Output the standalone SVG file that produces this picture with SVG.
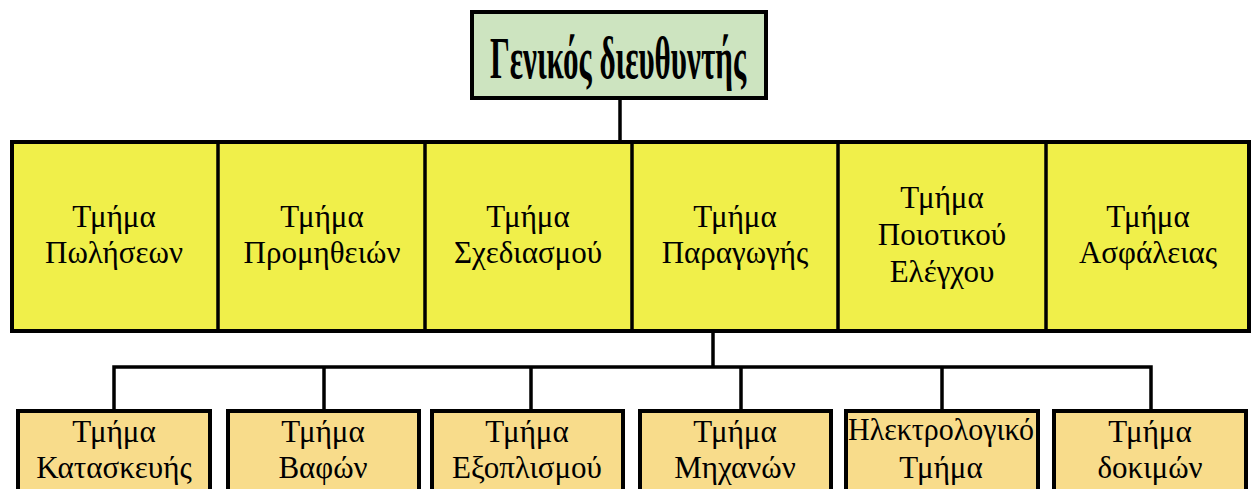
<svg xmlns="http://www.w3.org/2000/svg" width="1252" height="489" viewBox="0 0 1252 489">
<style>
.t{font-family:"Liberation Serif","Times New Roman",serif;font-size:31px;fill:#000;text-anchor:middle}
.title{font-family:"Liberation Serif","Times New Roman",serif;font-size:60px;font-weight:bold;fill:#000;text-anchor:middle}
.bot{fill:#f8dc8b;stroke:#000;stroke-width:4}
.ln{fill:none;stroke:#000;stroke-width:3.5}
</style>
<rect width="1252" height="489" fill="#fff"/>
<g id="connectors">
<line class="ln" x1="620" y1="98" x2="620" y2="140"/>
<line class="ln" x1="713" y1="332" x2="713" y2="367"/>
<polyline class="ln" points="114,409 114,367 1151,367 1151,409"/>
<line class="ln" x1="324" y1="367" x2="324" y2="409"/>
<line class="ln" x1="531" y1="367" x2="531" y2="409"/>
<line class="ln" x1="741" y1="367" x2="741" y2="409"/>
<line class="ln" x1="942" y1="367" x2="942" y2="409"/>
</g>
<g id="gm">
<rect x="472" y="12" width="294" height="86" fill="#cde4c0" stroke="#000" stroke-width="4"/>
<text class="title" x="618" y="78" textLength="256" lengthAdjust="spacingAndGlyphs">Γενικός διευθυντής</text>
</g>
<g id="mid-frame">
<rect x="12" y="142" width="1237" height="189" fill="#f0ef4a" stroke="#000" stroke-width="4"/>
</g>
<g id="sales">
<line class="ln" x1="218" y1="142" x2="218" y2="331"/>
<text class="t" x="114" y="227">Τμήμα</text>
<text class="t" x="114" y="263">Πωλήσεων</text>
</g>
<g id="supply">
<line class="ln" x1="425" y1="142" x2="425" y2="331"/>
<text class="t" x="322" y="227">Τμήμα</text>
<text class="t" x="322" y="263">Προμηθειών</text>
</g>
<g id="design">
<line class="ln" x1="632" y1="142" x2="632" y2="331"/>
<text class="t" x="528" y="227">Τμήμα</text>
<text class="t" x="528" y="263">Σχεδιασμού</text>
</g>
<g id="production">
<line class="ln" x1="838" y1="142" x2="838" y2="331"/>
<text class="t" x="735" y="227">Τμήμα</text>
<text class="t" x="735" y="263">Παραγωγής</text>
</g>
<g id="quality">
<line class="ln" x1="1046" y1="142" x2="1046" y2="331"/>
<text class="t" x="942" y="208">Τμήμα</text>
<text class="t" x="942" y="245">Ποιοτικού</text>
<text class="t" x="942" y="282">Ελέγχου</text>
</g>
<g id="safety">
<text class="t" x="1148" y="227">Τμήμα</text>
<text class="t" x="1148" y="263">Ασφάλειας</text>
</g>
<g id="construction">
<rect class="bot" x="18" y="411" width="192" height="90"/>
<text class="t" x="114" y="442">Τμήμα</text>
<text class="t" x="114" y="478">Κατασκευής</text>
</g>
<g id="paint">
<rect class="bot" x="228" y="411" width="191" height="90"/>
<text class="t" x="323" y="442">Τμήμα</text>
<text class="t" x="323" y="478">Βαφών</text>
</g>
<g id="equipment">
<rect class="bot" x="432" y="411" width="191" height="90"/>
<text class="t" x="527" y="442">Τμήμα</text>
<text class="t" x="527" y="478">Εξοπλισμού</text>
</g>
<g id="machines">
<rect class="bot" x="640" y="411" width="191" height="90"/>
<text class="t" x="735" y="442">Τμήμα</text>
<text class="t" x="735" y="478">Μηχανών</text>
</g>
<g id="electrical">
<rect class="bot" x="846" y="411" width="192" height="90"/>
<text class="t" x="941" y="440" textLength="186" lengthAdjust="spacingAndGlyphs">Ηλεκτρολογικό</text>
<text class="t" x="941" y="478">Τμήμα</text>
</g>
<g id="testing">
<rect class="bot" x="1054" y="411" width="192" height="90"/>
<text class="t" x="1150" y="442">Τμήμα</text>
<text class="t" x="1150" y="478">δοκιμών</text>
</g>
</svg>
